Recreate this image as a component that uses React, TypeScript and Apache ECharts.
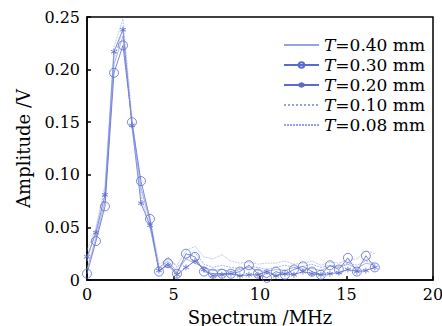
import React, { useEffect, useRef } from "react";
import * as echarts from "echarts";

const freqs = [0, 0.52, 1.04, 1.56, 2.08, 2.6, 3.12, 3.64, 4.16, 4.68, 5.2, 5.72, 6.24, 6.76, 7.28, 7.8, 8.32, 8.84, 9.36, 9.88, 10.4, 10.92, 11.44, 11.96, 12.48, 13.0, 13.52, 14.04, 14.56, 15.08, 15.6, 16.12, 16.64];

const t040 = [0.010, 0.040, 0.075, 0.205, 0.232, 0.150, 0.088, 0.055, 0.012, 0.018, 0.008, 0.020, 0.016, 0.012, 0.009, 0.010, 0.008, 0.010, 0.012, 0.009, 0.008, 0.010, 0.009, 0.012, 0.010, 0.011, 0.009, 0.013, 0.012, 0.015, 0.011, 0.016, 0.014];
const t030 = [0.006, 0.037, 0.070, 0.197, 0.223, 0.150, 0.094, 0.058, 0.008, 0.016, 0.006, 0.025, 0.022, 0.008, 0.006, 0.006, 0.006, 0.008, 0.014, 0.006, 0.002, 0.008, 0.005, 0.010, 0.013, 0.008, 0.005, 0.014, 0.010, 0.021, 0.008, 0.023, 0.012];
const t020 = [0.022, 0.045, 0.081, 0.217, 0.238, 0.147, 0.073, 0.052, 0.009, 0.014, 0.005, 0.012, 0.018, 0.010, 0.004, 0.005, 0.006, 0.004, 0.005, 0.005, 0.008, 0.004, 0.006, 0.005, 0.008, 0.006, 0.005, 0.006, 0.007, 0.010, 0.008, 0.009, 0.012];
const t010 = [0.028, 0.050, 0.090, 0.222, 0.248, 0.155, 0.085, 0.060, 0.015, 0.020, 0.014, 0.028, 0.032, 0.022, 0.020, 0.024, 0.018, 0.016, 0.017, 0.015, 0.016, 0.016, 0.018, 0.015, 0.016, 0.018, 0.014, 0.017, 0.016, 0.019, 0.020, 0.028, 0.025];
const t008 = [0.018, 0.048, 0.085, 0.210, 0.240, 0.145, 0.080, 0.050, 0.010, 0.022, 0.012, 0.020, 0.026, 0.015, 0.012, 0.014, 0.012, 0.011, 0.013, 0.012, 0.010, 0.012, 0.014, 0.012, 0.013, 0.015, 0.012, 0.014, 0.013, 0.016, 0.014, 0.018, 0.016];

const legendNames = ["T=0.40 mm", "T=0.30 mm", "T=0.20 mm", "T=0.10 mm", "T=0.08 mm"];
const xTicks = [0, 5, 10, 15, 20];
const yTicks = [0, 0.05, 0.1, 0.15, 0.2, 0.25];

const FONT = "DejaVu Serif";
const FS = 17;
const TICK_FS = 16;
const NAME_FS = 18;
const DARK = "#5a6bcc";
const LIGHT = "#95a2e6";

const star = "path://M0,-5L0,5M-4.3,-2.5L4.3,2.5M-4.3,2.5L4.3,-2.5";
const ring = "path://M5,0A5,5 0 1,1 -5,0A5,5 0 1,1 5,0Z";

export default function App() {
  const ref = useRef<HTMLDivElement>(null);
  useEffect(() => {
    if (!ref.current) return;
    const chart = echarts.init(ref.current, null, { renderer: "svg" });
    const pts = (arr: number[]) => freqs.map((f, i) => [f, arr[i]]);
    const hidden = { opacity: 0 };
    chart.setOption({
      animation: false,
      textStyle: { fontFamily: FONT },
      grid: {
        left: 87,
        right: 9,
        top: 17,
        bottom: 46,
        containLabel: false,
        outerBoundsMode: "none",
        show: true,
        borderColor: "#000",
        borderWidth: 1.5,
        backgroundColor: "transparent",
      },
      legend: {
        orient: "vertical",
        left: 278,
        top: 30,
        itemWidth: 35,
        itemHeight: 7,
        itemGap: 0,
        data: [
          { name: legendNames[0], itemStyle: hidden },
          { name: legendNames[1] },
          { name: legendNames[2] },
          { name: legendNames[3], itemStyle: hidden },
          { name: legendNames[4], itemStyle: hidden },
        ],
        formatter: (n: string) => "{i|T}" + n.slice(1),
        textStyle: {
          fontFamily: FONT,
          fontSize: FS,
          color: "#000",
          lineHeight: 20,
          rich: {
            i: { fontFamily: FONT, fontSize: FS, fontStyle: "italic", color: "#000" },
          },
        },
      },
      xAxis: {
        type: "value",
        min: xTicks[0],
        max: xTicks[xTicks.length - 1],
        interval: 5,
        name: "Spectrum /MHz",
        nameLocation: "middle",
        nameGap: 28,
        nameTextStyle: { fontFamily: FONT, fontSize: NAME_FS, color: "#000" },
        axisLine: { show: true, lineStyle: { color: "#000", width: 1.5 } },
        axisTick: { show: true, inside: true, length: 4, lineStyle: { color: "#000", width: 1.5 } },
        axisLabel: { fontFamily: FONT, fontSize: TICK_FS, color: "#000", margin: 6 },
        splitLine: { show: false },
      },
      yAxis: {
        type: "value",
        min: yTicks[0],
        max: yTicks[yTicks.length - 1],
        interval: 0.05,
        name: "Amplitude /V",
        nameLocation: "middle",
        nameGap: 55,
        nameTextStyle: { fontFamily: FONT, fontSize: NAME_FS, color: "#000" },
        axisLine: { show: true, lineStyle: { color: "#000", width: 1.5 } },
        axisTick: { show: true, inside: true, length: 4, lineStyle: { color: "#000", width: 1.5 } },
        axisLabel: {
          fontFamily: FONT,
          fontSize: TICK_FS,
          color: "#000",
          margin: 7,
          formatter: (v: number) => (v === 0 ? "0" : v.toFixed(2)),
        },
        splitLine: { show: false },
      },
      series: [
        {
          name: legendNames[0],
          type: "line",
          data: pts(t040),
          symbol: "none",
          lineStyle: { color: LIGHT, width: 0.8 },
          itemStyle: { color: LIGHT },
        },
        {
          name: legendNames[1],
          type: "line",
          data: pts(t030),
          symbol: ring,
          symbolSize: 9,
          lineStyle: { color: DARK, width: 0.8 },
          itemStyle: { color: "none", borderColor: DARK, borderWidth: 0.8 },
        },
        {
          name: legendNames[2],
          type: "line",
          data: pts(t020),
          symbol: star,
          symbolSize: 6,
          lineStyle: { color: DARK, width: 0.8 },
          itemStyle: { color: "none", borderColor: DARK, borderWidth: 0.8 },
        },
        {
          name: legendNames[3],
          type: "line",
          data: pts(t010),
          symbol: "none",
          lineStyle: { color: LIGHT, width: 0.8, type: "dotted" },
          itemStyle: { color: LIGHT },
        },
        {
          name: legendNames[4],
          type: "line",
          data: pts(t008),
          symbol: "none",
          lineStyle: { color: LIGHT, width: 0.8, type: [2, 1] },
          itemStyle: { color: LIGHT },
        },
      ],
    });
    return () => chart.dispose();
  }, []);
  return <div ref={ref} style={{ width: 442, height: 326, position: "absolute", left: 0, top: 0 }} />;
}
